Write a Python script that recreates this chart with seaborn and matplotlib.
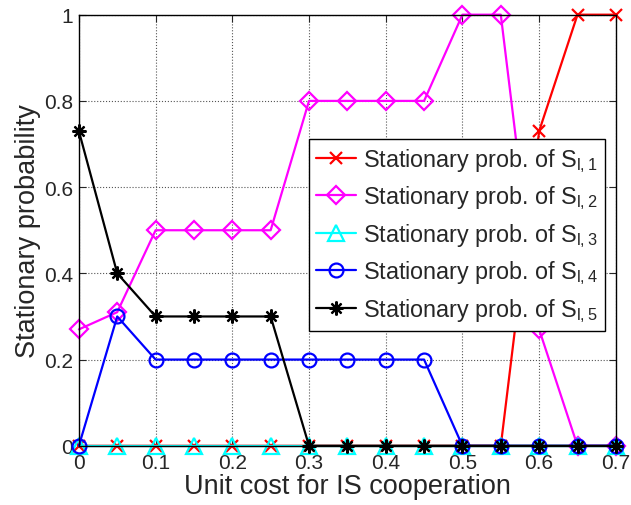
import seaborn as sns
import matplotlib.pyplot as plt
import pandas as pd

cost = [0.0, 0.05, 0.1, 0.15, 0.2, 0.25, 0.3, 0.35, 0.4, 0.45, 0.5, 0.55, 0.6, 0.65, 0.7]
s_l1 = [0, 0, 0, 0, 0, 0, 0, 0, 0, 0, 0, 0, 0.73, 1, 1]
s_l2 = [0.27, 0.31, 0.5, 0.5, 0.5, 0.5, 0.8, 0.8, 0.8, 0.8, 1, 1, 0.27, 0, 0]
s_l3 = [0, 0, 0, 0, 0, 0, 0, 0, 0, 0, 0, 0, 0, 0, 0]
s_l4 = [0, 0.3, 0.2, 0.2, 0.2, 0.2, 0.2, 0.2, 0.2, 0.2, 0, 0, 0, 0, 0]
s_l5 = [0.73, 0.4, 0.3, 0.3, 0.3, 0.3, 0, 0, 0, 0, 0, 0, 0, 0, 0]

labels = [r'Stationary prob. of S$_{\mathrm{l,%d}}$' % i for i in range(1, 6)]
series = [s_l1, s_l2, s_l3, s_l4, s_l5]
colors = ['#ff0000', '#ff00ff', '#00ffff', '#0000ff', '#000000']
markers = ['x', 'D', '^', 'o', (8, 2, 0)]
msizes = [8, 9, 11, 10, 10]

sns.set_style('ticks')
plt.rcParams['font.family'] = ['Liberation Sans', 'DejaVu Sans']
plt.rcParams['mathtext.fontset'] = 'custom'
plt.rcParams['mathtext.rm'] = 'Liberation Sans'
plt.rcParams['xtick.direction'] = 'in'
plt.rcParams['ytick.direction'] = 'in'

fig = plt.figure(figsize=(6.31, 5.06), dpi=100)
ax = fig.add_axes([0.125, 0.117, 0.851, 0.852])

for vals, lab, c, m, ms in zip(series, labels, colors, markers, msizes):
    df = pd.DataFrame({'cost': cost, 'prob': vals})
    sns.lineplot(data=df, x='cost', y='prob', ax=ax, color=c, marker=m,
                 markersize=ms, mfc='none', mec=c, mew=1.6, linewidth=1.6,
                 label=lab, errorbar=None, clip_on=False)

ax.set_xlim(0, 0.7)
ax.set_ylim(0, 1)
ax.set_xticks([0, 0.1, 0.2, 0.3, 0.4, 0.5, 0.6, 0.7])
ax.set_xticklabels(['0', '0.1', '0.2', '0.3', '0.4', '0.5', '0.6', '0.7'])
ax.set_yticks([0, 0.2, 0.4, 0.6, 0.8, 1])
ax.set_yticklabels(['0', '0.2', '0.4', '0.6', '0.8', '1'])
ax.tick_params(labelsize=15, top=True, right=True, length=5, width=0.8)
ax.tick_params(axis='x', pad=5)
ax.tick_params(axis='y', pad=4)
ax.grid(True, linestyle=':', color='#555555', linewidth=0.8)
for sp in ax.spines.values():
    sp.set_visible(True)
    sp.set_color('black')
    sp.set_linewidth(1.0)

ax.set_xlabel('Unit cost for IS cooperation', fontsize=19.5, labelpad=1)
ax.set_ylabel('Stationary probability', fontsize=19.5, labelpad=2)

leg = ax.legend(loc='upper right', bbox_to_anchor=(0.98, 0.712), fontsize=16.8,
                frameon=True, fancybox=False, edgecolor='black', framealpha=1,
                handlelength=1.7, borderpad=0.3, labelspacing=0.42,
                handletextpad=0.3, borderaxespad=0)
leg.get_frame().set_linewidth(1.0)

fig.savefig('out.png', dpi=100)
